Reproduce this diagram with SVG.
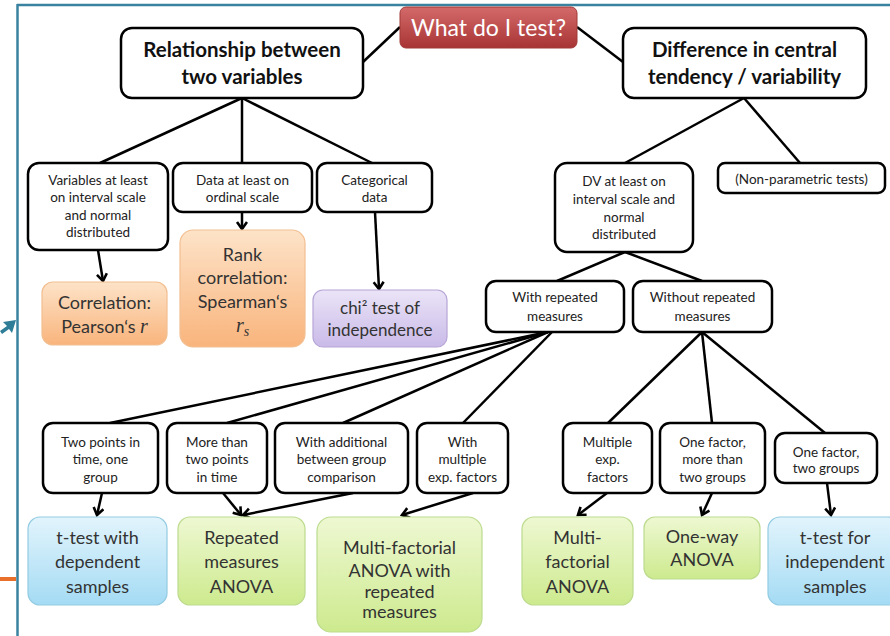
<svg xmlns="http://www.w3.org/2000/svg" width="890" height="636" viewBox="0 0 890 636">
<defs>
<linearGradient id="gRed" x1="0" y1="0" x2="0" y2="1"><stop offset="0" stop-color="#d46a6a"/><stop offset="1" stop-color="#a83434"/></linearGradient>
<linearGradient id="gOr" x1="0" y1="0" x2="0" y2="1"><stop offset="0" stop-color="#fde3c8"/><stop offset="1" stop-color="#f9b47c"/></linearGradient>
<linearGradient id="gPu" x1="0" y1="0" x2="0" y2="1"><stop offset="0" stop-color="#ebe4f7"/><stop offset="1" stop-color="#c9bae8"/></linearGradient>
<linearGradient id="gGr" x1="0" y1="0" x2="0" y2="1"><stop offset="0" stop-color="#eef8d2"/><stop offset="1" stop-color="#cdea8e"/></linearGradient>
<linearGradient id="gBl" x1="0" y1="0" x2="0" y2="1"><stop offset="0" stop-color="#e2f4fc"/><stop offset="1" stop-color="#a4dbf4"/></linearGradient>
<marker id="ah" markerUnits="userSpaceOnUse" markerWidth="14" markerHeight="14" refX="8" refY="6" orient="auto">
<path d="M1,1 L8,6 L1,11" fill="none" stroke="#000" stroke-width="2.6" stroke-linejoin="miter"/>
</marker>
</defs>
<style>
.q{fill:#fff;stroke:#000;stroke-width:2.5}
.t{font-family:Lato,"Liberation Sans",sans-serif;font-size:13.5px;fill:#222;text-anchor:middle}
.h{font-family:Lato,"Liberation Sans",sans-serif;font-size:20.5px;font-weight:bold;fill:#111;text-anchor:middle}
.r{font-family:Lato,"Liberation Sans",sans-serif;font-size:18px;fill:#333;text-anchor:middle}
.m{font-family:"Liberation Serif",serif;font-style:italic}
.or{fill:url(#gOr);stroke:#f2bf92;stroke-width:1.2}
.pu{fill:url(#gPu);stroke:#b6a6d6;stroke-width:1.2}
.gr{fill:url(#gGr);stroke:#bcdb8e;stroke-width:1.2}
.bl{fill:url(#gBl);stroke:#93cbe2;stroke-width:1.2}
.c line{stroke:#000;stroke-width:2.5}
.c line.a{marker-end:url(#ah)}
</style>
<rect width="890" height="636" fill="#fff"/>
<g id="frame">
<line x1="17" y1="5" x2="890" y2="5" stroke="#3a83a0" stroke-width="2.5"/>
<line x1="17.5" y1="4" x2="17.5" y2="636" stroke="#3a83a0" stroke-width="2.5"/>
<polygon points="16,320 3,322 7,326 0,331 2,334 9,329 12,333" fill="#2f7d96"/>
<rect x="0" y="577" width="16" height="4" fill="#e8702a"/>
</g>
<g class="c" id="connectors">
<line x1="400" y1="27" x2="363" y2="62"/>
<line x1="577" y1="27" x2="623" y2="62"/>
<line x1="242" y1="98" x2="100" y2="163"/>
<line x1="242" y1="98" x2="242" y2="163"/>
<line x1="242" y1="98" x2="372" y2="163"/>
<line x1="744" y1="98" x2="625" y2="163"/>
<line x1="744" y1="98" x2="800" y2="163"/>
<line class="a" x1="98" y1="250" x2="103" y2="281"/>
<line class="a" x1="242" y1="212" x2="242" y2="229"/>
<line class="a" x1="375" y1="212" x2="379" y2="289"/>
<line x1="625" y1="252" x2="557" y2="281"/>
<line x1="625" y1="252" x2="702" y2="281"/>
<line x1="548" y1="332" x2="110" y2="423"/>
<line x1="548" y1="332" x2="227" y2="423"/>
<line x1="548" y1="332" x2="343" y2="423"/>
<line x1="552" y1="332" x2="463" y2="423"/>
<line x1="702" y1="332" x2="608" y2="423"/>
<line x1="702" y1="332" x2="712" y2="423"/>
<line x1="702" y1="332" x2="825" y2="433"/>
<line class="a" x1="102" y1="493" x2="97" y2="515"/>
<line class="a" x1="223" y1="493" x2="241" y2="515"/>
<line class="a" x1="353" y1="493" x2="243" y2="515"/>
<line class="a" x1="473" y1="493" x2="402" y2="515"/>
<line class="a" x1="607" y1="493" x2="578" y2="515"/>
<line class="a" x1="712" y1="493" x2="702" y2="515"/>
<line class="a" x1="827" y1="483" x2="831" y2="515"/>
</g>
<g id="n-root"><rect x="400" y="7" width="177" height="41" rx="6" fill="url(#gRed)" stroke="#a03a3a" stroke-width="1"/><text x="488.5" y="35.5" style="font-family:Lato,'Liberation Sans',sans-serif;font-size:23px;fill:#fff;text-anchor:middle">What do I test?</text></g>
<g id="n-rel"><rect class="q" x="121" y="28" width="242" height="70" rx="11"/><text class="h" x="242" y="57">Relationship between</text><text class="h" x="242" y="84">two variables</text></g>
<g id="n-diff"><rect class="q" x="623" y="28" width="243" height="70" rx="11"/><text class="h" x="744.5" y="57">Difference in central</text><text class="h" x="744.5" y="84">tendency / variability</text></g>
<g id="n-var"><rect class="q" x="28" y="163" width="140" height="87" rx="11"/><text class="t" x="98" y="184.5">Variables at least</text><text class="t" x="98" y="202">on interval scale</text><text class="t" x="98" y="219.5">and normal</text><text class="t" x="98" y="237">distributed</text></g>
<g id="n-ord"><rect class="q" x="173" y="163" width="139" height="49" rx="10"/><text class="t" x="242.5" y="184.5">Data at least on</text><text class="t" x="242.5" y="202">ordinal scale</text></g>
<g id="n-cat"><rect class="q" x="317" y="163" width="115" height="49" rx="10"/><text class="t" x="374.5" y="184.5">Categorical</text><text class="t" x="374.5" y="202">data</text></g>
<g id="n-pearson"><rect class="or" x="42" y="282" width="125" height="63" rx="11"/><text class="r" x="104.5" y="309">Correlation:</text><text class="r" x="104.5" y="333">Pearson‘s <tspan class="m" font-size="20">r</tspan></text></g>
<g id="n-rank"><rect class="or" x="180" y="230" width="125" height="117" rx="13"/><text class="r" x="242.5" y="261">Rank</text><text class="r" x="242.5" y="284">correlation:</text><text class="r" x="242.5" y="308">Spearman‘s</text><text class="r" x="242.5" y="332"><tspan class="m" font-size="20">r</tspan><tspan class="m" font-size="14" dy="4">s</tspan></text></g>
<g id="n-chi"><rect class="pu" x="313" y="290" width="134" height="57" rx="10"/><text class="r" x="380" y="314" style="font-size:17px">chi² test of</text><text class="r" x="380" y="336" style="font-size:17px">independence</text></g>
<g id="n-dv"><rect class="q" x="555" y="163" width="138" height="89" rx="12"/><text class="t" x="624" y="186">DV at least on</text><text class="t" x="624" y="204">interval scale and</text><text class="t" x="624" y="221.5">normal</text><text class="t" x="624" y="239">distributed</text></g>
<g id="n-nonpar"><rect class="q" x="718" y="163" width="167" height="30" rx="7"/><text class="t" x="801.5" y="183.5">(Non-parametric tests)</text></g>
<g id="n-with"><rect class="q" x="486" y="281" width="138" height="51" rx="10"/><text class="t" x="555" y="301.5">With repeated</text><text class="t" x="555" y="320.5">measures</text></g>
<g id="n-without"><rect class="q" x="633" y="281" width="139" height="51" rx="10"/><text class="t" x="702.5" y="301.5">Without repeated</text><text class="t" x="702.5" y="320.5">measures</text></g>
<g id="n-b1"><rect class="q" x="43" y="423" width="115" height="70" rx="10"/><text class="t" x="100.5" y="446.5">Two points in</text><text class="t" x="100.5" y="464">time, one</text><text class="t" x="100.5" y="481.5">group</text></g>
<g id="n-b2"><rect class="q" x="167" y="423" width="100" height="70" rx="10"/><text class="t" x="217" y="446.5">More than</text><text class="t" x="217" y="464">two points</text><text class="t" x="217" y="481.5">in time</text></g>
<g id="n-b3"><rect class="q" x="275" y="423" width="133" height="70" rx="10"/><text class="t" x="341.5" y="446.5">With additional</text><text class="t" x="341.5" y="464">between group</text><text class="t" x="341.5" y="481.5">comparison</text></g>
<g id="n-b4"><rect class="q" x="417" y="423" width="91" height="70" rx="10"/><text class="t" x="462.5" y="446.5">With</text><text class="t" x="462.5" y="464">multiple</text><text class="t" x="462.5" y="481.5">exp. factors</text></g>
<g id="n-b5"><rect class="q" x="563" y="423" width="89" height="70" rx="10"/><text class="t" x="607.5" y="446.5">Multiple</text><text class="t" x="607.5" y="464">exp.</text><text class="t" x="607.5" y="481.5">factors</text></g>
<g id="n-b6"><rect class="q" x="660" y="423" width="105" height="70" rx="10"/><text class="t" x="712.5" y="446.5">One factor,</text><text class="t" x="712.5" y="464">more than</text><text class="t" x="712.5" y="481.5">two groups</text></g>
<g id="n-b7"><rect class="q" x="775" y="433" width="102" height="50" rx="10"/><text class="t" x="826" y="456.5">One factor,</text><text class="t" x="826" y="473">two groups</text></g>
<g id="n-ttdep"><rect class="bl" x="28" y="517" width="139" height="88" rx="12"/><text class="r" x="97.5" y="544">t-test with</text><text class="r" x="97.5" y="568">dependent</text><text class="r" x="97.5" y="593">samples</text></g>
<g id="n-rmanova"><rect class="gr" x="178" y="517" width="127" height="88" rx="12"/><text class="r" x="241.5" y="544">Repeated</text><text class="r" x="241.5" y="568">measures</text><text class="r" x="241.5" y="593">ANOVA</text></g>
<g id="n-mfrm"><rect class="gr" x="317" y="517" width="165" height="115" rx="14"/><text class="r" x="399.5" y="554">Multi-factorial</text><text class="r" x="399.5" y="577">ANOVA with</text><text class="r" x="399.5" y="598">repeated</text><text class="r" x="399.5" y="618">measures</text></g>
<g id="n-mfa"><rect class="gr" x="522" y="517" width="111" height="88" rx="12"/><text class="r" x="577.5" y="544">Multi-</text><text class="r" x="577.5" y="568">factorial</text><text class="r" x="577.5" y="593">ANOVA</text></g>
<g id="n-oneway"><rect class="gr" x="644" y="517" width="116" height="62" rx="11"/><text class="r" x="702" y="543">One-way</text><text class="r" x="702" y="566">ANOVA</text></g>
<g id="n-ttind"><rect class="bl" x="768" y="517" width="132" height="88" rx="12"/><text class="r" x="835" y="544">t-test for</text><text class="r" x="835" y="568">independent</text><text class="r" x="835" y="593">samples</text></g>
</svg>
